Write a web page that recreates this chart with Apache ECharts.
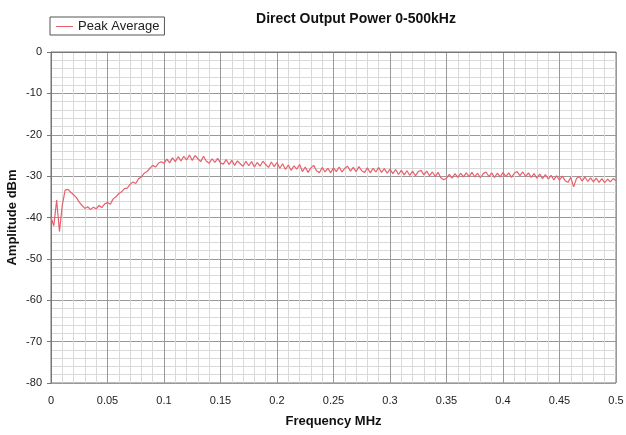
<!DOCTYPE html>
<html>
<head>
<meta charset="utf-8">
<script src="https://cdn.jsdelivr.net/npm/echarts@6/dist/echarts.min.js"></script>
<style>
  html, body { margin: 0; padding: 0; background: #fff; }
  #main { width: 626px; height: 435px; }
</style>
</head>
<body>
<div id="main"></div>
<script>
    // sampling of the trace: 0 .. 0.5 MHz, one point every 2.5 kHz
    var freqStart = 0;
    var freqStep = 0.0025;

    // peak average level, dBm
    var peakAverage = [
        -40.0, -42.0, -35.8, -43.4, -37.0, -33.4, -33.2, -33.9, -34.5, -35.2,
        -36.3, -37.1, -37.8, -37.4, -38.1, -37.5, -37.9, -37.1, -37.6, -36.7,
        -36.4, -36.8, -35.5, -35.0, -34.2, -33.8, -33.0, -32.9, -32.0, -31.4,
        -31.8, -30.6, -30.2, -29.3, -28.9, -28.1, -27.4, -27.8, -26.9, -26.5,
        -26.9, -25.9, -26.8, -25.6, -26.5, -25.3, -26.3, -25.2, -26.1, -24.9,
        -26.2, -25.0, -25.8, -26.5, -25.2, -26.4, -26.9, -25.8, -26.7, -25.7,
        -26.8, -27.1, -26.0, -27.2, -26.2, -27.4, -26.3, -27.0, -27.6, -26.4,
        -27.5, -26.5, -27.8, -26.7, -27.6, -26.4, -27.2, -27.9, -26.6, -27.7,
        -26.7, -28.1, -27.0, -28.4, -27.3, -28.6, -27.5, -28.3, -27.2, -28.9,
        -27.8, -29.1, -28.0, -27.4, -28.7, -29.2, -27.9, -29.0, -28.1, -29.2,
        -28.0, -28.9, -27.8, -29.0, -28.1, -27.6, -28.8, -27.9, -28.9, -27.7,
        -28.7, -29.1, -28.0, -29.2, -28.1, -29.0, -27.9, -29.1, -28.2, -29.3,
        -28.3, -29.4, -28.4, -29.6, -28.6, -29.7, -28.7, -29.8, -28.8, -29.9,
        -28.9, -28.6, -29.7, -28.8, -29.9, -29.0, -30.1, -29.1, -30.4, -30.9,
        -30.5, -29.6, -30.5, -29.4, -30.3, -29.3, -30.2, -29.2, -30.1, -29.1,
        -30.2, -29.3, -30.4, -29.4, -29.0, -30.1, -29.2, -30.3, -29.3, -30.2,
        -29.1, -30.1, -29.2, -30.3, -29.3, -28.9, -29.9, -29.0, -30.1, -29.2,
        -30.3, -29.4, -30.5, -29.5, -30.6, -29.6, -30.7, -29.8, -30.9, -29.9,
        -31.0, -30.0, -31.1, -31.5, -30.3, -32.6, -30.6, -30.1, -31.2, -30.2,
        -31.3, -30.4, -31.4, -30.5, -31.5, -30.6, -31.6, -30.7, -31.4, -30.6,
        -31.1
    ];

    var seriesData = peakAverage.map(function (v, i) {
        return [+(freqStart + i * freqStep).toFixed(4), v];
    });

    var myChart = echarts.init(document.getElementById('main'));

    myChart.setOption({
        animation: false,
        textStyle: { fontFamily: 'Liberation Sans, Arial, sans-serif' },
        title: {
            text: 'Direct Output Power 0-500kHz',
            left: 351,
            top: 7,
            textAlign: 'center',
            textStyle: { fontSize: 14, fontWeight: 'bold', color: '#111' }
        },
        legend: {
            left: 50,
            top: 17,
            icon: 'rect',
            itemWidth: 17,
            itemHeight: 1,
            itemGap: 5,
            padding: [3, 5, 2, 6],
            borderColor: '#555',
            borderWidth: 1,
            textStyle: { fontSize: 13, color: '#222', padding: [0, 0, 0, 0] },
            data: ['Peak Average']
        },
        grid: {
            left: 51,
            right: 10,
            top: 52,
            bottom: 52,
            outerBoundsMode: 'none',
            show: true,
            borderColor: '#777',
            borderWidth: 1
        },
        xAxis: {
            type: 'value',
            min: 0,
            max: 0.5,
            interval: 0.05,
            name: 'Frequency MHz',
            nameLocation: 'middle',
            nameGap: 32,
            nameMoveOverlap: false,
            nameTextStyle: { fontSize: 13, fontWeight: 'bold', color: '#111' },
            axisLine: { lineStyle: { color: '#777' } },
            axisTick: { show: false },
            axisLabel: { fontSize: 11, color: '#222', margin: 12 },
            splitLine: { lineStyle: { color: '#999', width: 1 } },
            minorTick: { show: false, splitNumber: 5 },
            minorSplitLine: { show: true, lineStyle: { color: '#d9d9d9', width: 1 } }
        },
        yAxis: {
            type: 'value',
            min: -80,
            max: 0,
            interval: 10,
            name: 'Amplitude dBm',
            nameLocation: 'middle',
            nameGap: 32,
            nameMoveOverlap: false,
            nameTextStyle: { fontSize: 13, fontWeight: 'bold', color: '#111' },
            axisLine: { show: true, lineStyle: { color: '#777' } },
            axisTick: { show: true, length: 4, lineStyle: { color: '#777' } },
            axisLabel: { fontSize: 11, color: '#222', margin: 9 },
            splitLine: { lineStyle: { color: '#999', width: 1 } },
            minorTick: { show: false, splitNumber: 5 },
            minorSplitLine: { show: true, lineStyle: { color: '#d9d9d9', width: 1 } }
        },
        series: [{
            name: 'Peak Average',
            type: 'line',
            data: seriesData,
            showSymbol: false,
            symbol: 'none',
            color: '#e8606c',
            lineStyle: { width: 1.2, color: '#e8606c' }
        }]
    });
</script>
</body>
</html>
